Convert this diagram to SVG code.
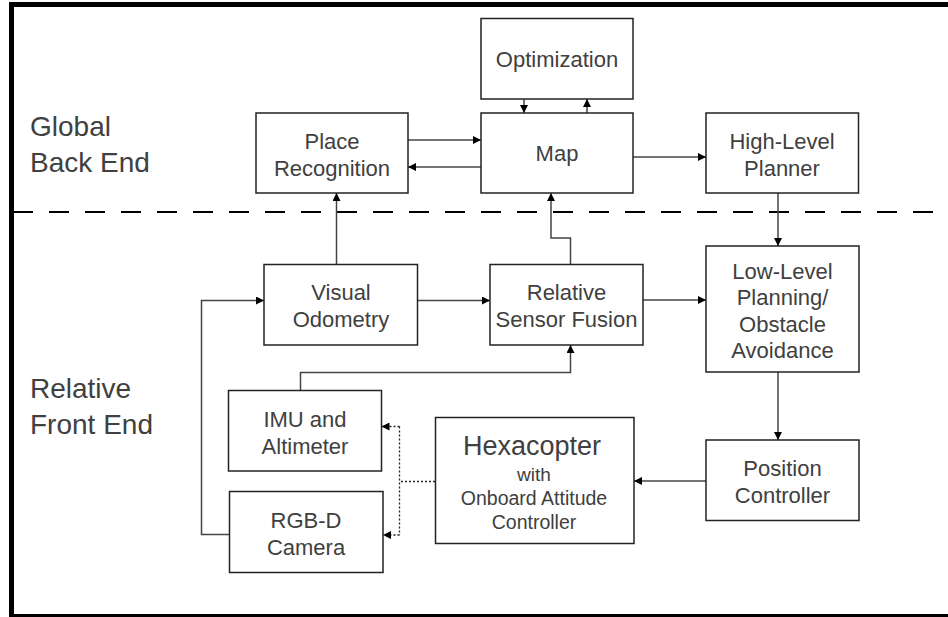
<svg xmlns="http://www.w3.org/2000/svg" width="948" height="617" viewBox="0 0 948 617">
<style>
.box{fill:#fff;stroke:#222;stroke-width:1.5}
.t{font-family:"Liberation Sans",Arial,sans-serif;font-size:22px;fill:#404040;text-anchor:middle}
.lbl{font-family:"Liberation Sans",Arial,sans-serif;font-size:28px;fill:#404040}
.c{fill:none;stroke:#444;stroke-width:1.5}
.d{fill:none;stroke:#222;stroke-width:1.3;stroke-dasharray:2 2}
</style>
<defs>
<marker id="a" viewBox="0 0 10 10" refX="10" refY="5" markerWidth="8" markerHeight="8" markerUnits="userSpaceOnUse" orient="auto">
<path d="M0,0 L10,5 L0,10 z" fill="#000"/>
</marker>
</defs>
<rect width="948" height="617" fill="#fff"/>
<rect x="11.5" y="4.5" width="960" height="612" fill="none" stroke="#000" stroke-width="5"/>
<line x1="13" y1="212" x2="948" y2="212" stroke="#000" stroke-width="2" stroke-dasharray="20 16"/>
<text class="lbl" x="30" y="136">Global</text>
<text class="lbl" x="30" y="172">Back End</text>
<text class="lbl" x="30" y="398">Relative</text>
<text class="lbl" x="30" y="434">Front End</text>

<g id="connectors">
<path class="c" d="M524,99 V113" marker-end="url(#a)"/>
<path class="c" d="M587,113 V99" marker-end="url(#a)"/>
<path class="c" d="M408,140 H481" marker-end="url(#a)"/>
<path class="c" d="M481,167 H408" marker-end="url(#a)"/>
<path class="c" d="M633,157 H706" marker-end="url(#a)"/>
<path class="c" d="M336.5,264 V193" marker-end="url(#a)"/>
<path class="c" d="M570.5,264 V238 H551 V193" marker-end="url(#a)"/>
<path class="c" d="M778,193 V246" marker-end="url(#a)"/>
<path class="c" d="M418,300.5 H490" marker-end="url(#a)"/>
<path class="c" d="M643,300 H706" marker-end="url(#a)"/>
<path class="c" d="M778,372 V440" marker-end="url(#a)"/>
<path class="c" d="M706,481 H634" marker-end="url(#a)"/>
<path class="c" d="M300.5,390.5 V372.5 H570.5 V345" marker-end="url(#a)"/>
<path class="c" d="M229.5,534.5 H201.5 V300.5 H264" marker-end="url(#a)"/>
<path class="d" d="M435,481.5 H399.5"/>
<path class="d" d="M399.5,426.5 V535"/>
<path class="d" d="M399.5,426.5 H381.5" marker-end="url(#a)"/>
<path class="d" d="M399.5,535 H383" marker-end="url(#a)"/>
</g>

<g id="optimization">
<rect class="box" x="481" y="18.5" width="152" height="80.5"/>
<text class="t" x="557" y="67">Optimization</text>
</g>
<g id="place-recognition">
<rect class="box" x="256" y="113" width="152" height="80"/>
<text class="t" x="332" y="149">Place</text>
<text class="t" x="332" y="176">Recognition</text>
</g>
<g id="map">
<rect class="box" x="481" y="113" width="152" height="80"/>
<text class="t" x="557" y="161">Map</text>
</g>
<g id="high-level-planner">
<rect class="box" x="706" y="113" width="152.5" height="80"/>
<text class="t" x="782" y="149">High-Level</text>
<text class="t" x="782" y="176">Planner</text>
</g>
<g id="visual-odometry">
<rect class="box" x="264" y="264.5" width="153.5" height="80.5"/>
<text class="t" x="341" y="300">Visual</text>
<text class="t" x="341" y="327">Odometry</text>
</g>
<g id="relative-sensor-fusion">
<rect class="box" x="490" y="264.5" width="153" height="80.5"/>
<text class="t" x="566.5" y="300">Relative</text>
<text class="t" x="566.5" y="327">Sensor Fusion</text>
</g>
<g id="low-level-planning">
<rect class="box" x="706" y="246" width="153" height="126"/>
<text class="t" x="782.5" y="278.5">Low-Level</text>
<text class="t" x="782.5" y="305">Planning/</text>
<text class="t" x="782.5" y="331.5">Obstacle</text>
<text class="t" x="782.5" y="358">Avoidance</text>
</g>
<g id="imu-altimeter">
<rect class="box" x="228.5" y="390.5" width="153" height="80.5"/>
<text class="t" x="305" y="426.5">IMU and</text>
<text class="t" x="305" y="453.5">Altimeter</text>
</g>
<g id="rgbd-camera">
<rect class="box" x="229.5" y="491.5" width="153.5" height="81"/>
<text class="t" x="306" y="527.5">RGB-D</text>
<text class="t" x="306" y="555">Camera</text>
</g>
<g id="hexacopter">
<rect class="box" x="435.5" y="417.5" width="198.5" height="126"/>
<text class="t" x="532" y="455" style="font-size:27px">Hexacopter</text>
<text class="t" x="534" y="481" style="font-size:19px">with</text>
<text class="t" x="534" y="505" style="font-size:19.5px">Onboard Attitude</text>
<text class="t" x="534" y="528.5" style="font-size:19.5px">Controller</text>
</g>
<g id="position-controller">
<rect class="box" x="706" y="440" width="153" height="80.5"/>
<text class="t" x="782.5" y="476">Position</text>
<text class="t" x="782.5" y="502.5">Controller</text>
</g>
</svg>
